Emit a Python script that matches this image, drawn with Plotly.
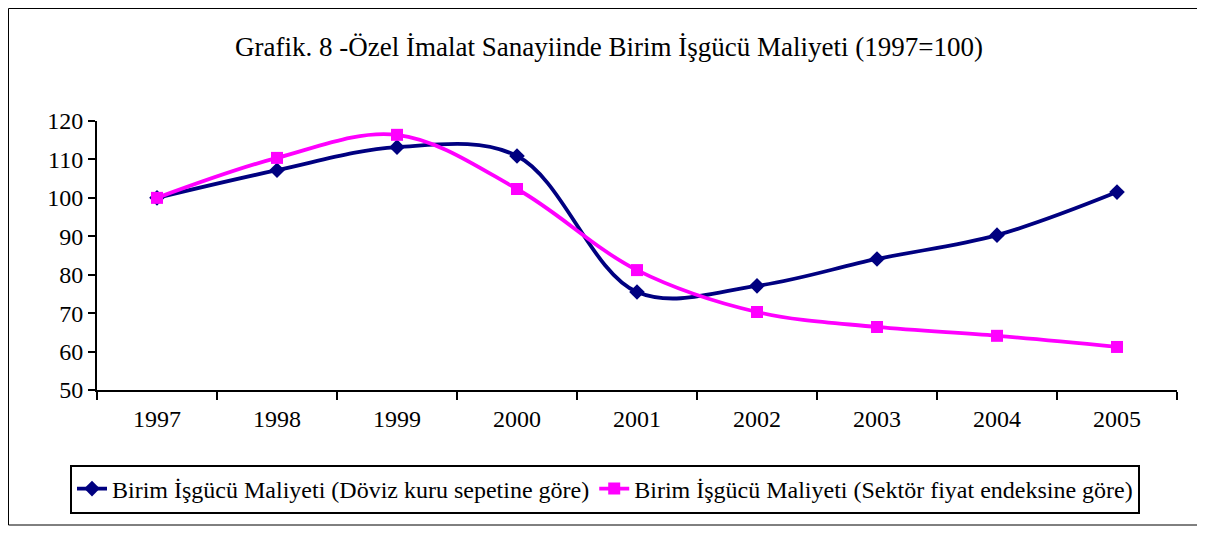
import plotly.graph_objects as go

years = ["1997", "1998", "1999", "2000", "2001", "2002", "2003", "2004", "2005"]
doviz = [100, 107.2, 113.2, 110.9, 75.5, 77.1, 84.1, 90.3, 101.5]
sektor = [100, 110.4, 116.4, 102.3, 81.2, 70.3, 66.4, 64.1, 61.2]
name_doviz = "Birim İşgücü Maliyeti (Döviz kuru sepetine göre)"
name_sektor = "Birim İşgücü Maliyeti (Sektör fiyat endeksine göre)"
title = "Grafik. 8 -Özel İmalat Sanayiinde Birim İşgücü Maliyeti (1997=100)"

FONT = "Liberation Serif"
W, H = 1197, 527          # page body has an 8px margin
L, R, T, B = 89, 1169, 113, 382
PW, PH = R - L, B - T

fig = go.Figure()
fig.add_trace(go.Scatter(
    x=years, y=doviz, name=name_doviz, mode="lines+markers",
    line=dict(color="#000080", width=3.8, shape="spline", smoothing=1.0),
    marker=dict(symbol="diamond", size=12, color="#000080"),
))
fig.add_trace(go.Scatter(
    x=years, y=sektor, name=name_sektor, mode="lines+markers",
    line=dict(color="#FF00FF", width=3.8, shape="spline", smoothing=1.0),
    marker=dict(symbol="square", size=12, color="#FF00FF"),
))

fig.update_layout(
    width=W, height=H,
    margin=dict(l=L, r=W - R, t=T, b=H - B),
    paper_bgcolor="white", plot_bgcolor="white",
    font=dict(family=FONT, size=24, color="black"),
    title=dict(text=title, x=601 / W, xanchor="center", xref="container",
               y=1 - 39 / H, yanchor="middle", yref="container",
               font=dict(family=FONT, size=27, color="black")),
    showlegend=True,
    legend=dict(orientation="h", x=(597 - L) / PW, xanchor="center",
                y=(B - 481) / PH, yanchor="middle",
                bordercolor="black", borderwidth=2,
                font=dict(family=FONT, size=24, color="black"),
                itemwidth=30, tracegroupgap=0),
    shapes=[dict(type="rect", xref="paper", yref="paper",
                 x0=(0.5 - L) / PW, x1=(1190 - L) / PW,
                 y0=(B - 517) / PH, y1=(B - 0.5) / PH,
                 line=dict(color="black", width=1), layer="below")],
)
fig.update_xaxes(
    type="category", tickson="boundaries", ticks="outside", ticklen=8,
    tickwidth=1.5, tickcolor="black", showline=True, linecolor="black",
    linewidth=2, showgrid=False, range=[-0.5, 8.5],
    tickfont=dict(family=FONT, size=24), ticklabelstandoff=6,
)
fig.update_yaxes(
    range=[50, 120], dtick=10, ticks="outside", ticklen=7, tickwidth=1.5,
    tickcolor="black", showline=True, linecolor="black", linewidth=2,
    showgrid=False, zeroline=False, tickfont=dict(family=FONT, size=24),
)

fig.write_html("out.html")
